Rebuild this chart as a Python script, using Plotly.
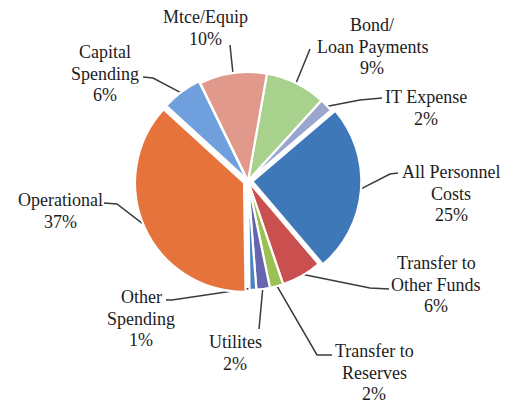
import math
import plotly.graph_objects as go

# Budget breakdown, listed clockwise from the top of the pie
categories = [
    "Bond/\nLoan Payments",
    "IT Expense",
    "All Personnel\nCosts",
    "Transfer to\nOther Funds",
    "Transfer to\nReserves",
    "Utilites",
    "Other\nSpending",
    "Operational",
    "Capital\nSpending",
    "Mtce/Equip",
]
shares = [9, 2, 25, 6, 2, 2, 1, 37, 6, 10]

slice_colors = [
    "#A9D18E", "#9BA6CF", "#3F78B8", "#C9504E", "#9BC152",
    "#6666AE", "#4C82C4", "#E6733C", "#6FA0DD", "#E0998B",
]
slice_pull = [0, 0, 0.04, 0, 0, 0, 0, 0.04, 0.02, 0]

# Page geometry (pixels)
W, H = 510, 403
CX, CY, R = 248, 181, 109
ROTATION = 10
FONT = "Liberation Serif, Times New Roman, Times, serif"
FONT_SIZE = 18
LINE_GAP = 21.5
TEXT_COLOR = "#1c1c1c"
LEADER_COLOR = "#3a3a3a"

# Label placement: text centre x, first line centre y, leader-line elbow, leader-line end at the text
label_place = {
    "Bond/\nLoan Payments": dict(x=372, y=25, elbow=(310, 49), attach=(310, 49)),
    "IT Expense": dict(x=426, y=97, elbow=(360, 100), attach=(382, 98)),
    "All Personnel\nCosts": dict(x=451, y=172, elbow=(390, 174), attach=(398, 173)),
    "Transfer to\nOther Funds": dict(x=436, y=263, elbow=(370, 288), attach=(389, 289)),
    "Transfer to\nReserves": dict(x=374, y=351, elbow=(317, 355), attach=(332, 355)),
    "Utilites": dict(x=235, y=342, elbow=(259, 329), attach=(259, 329)),
    "Other\nSpending": dict(x=141, y=297, elbow=(172, 300), attach=(166, 300)),
    "Operational": dict(x=60, y=200, elbow=(117, 204), attach=(104, 203)),
    "Capital\nSpending": dict(x=105, y=52, elbow=(153, 78), attach=(143, 77)),
    "Mtce/Equip": dict(x=205, y=17, elbow=(230, 45), attach=(230, 45)),
}

max_pull = max(slice_pull)
half = R * (1 + max_pull)
pie_domain = dict(
    x=[(CX - half) / W, (CX + half) / W],
    y=[1 - (CY + half) / H, 1 - (CY - half) / H],
)

fig = go.Figure()

fig.add_trace(go.Pie(
    labels=[c.replace("\n", " ") for c in categories],
    values=shares,
    sort=False,
    direction="clockwise",
    rotation=ROTATION,
    pull=slice_pull,
    marker=dict(colors=slice_colors, line=dict(color="white", width=2.2)),
    textinfo="none",
    hoverinfo="label+percent",
    showlegend=False,
    domain=pie_domain,
))

total = sum(shares)
cum = 0
annotations = []
for cat, val, pull in zip(categories, shares, slice_pull):
    mid = math.radians(ROTATION + 360 * (cum + val / 2) / total)
    cum += val
    r_edge = R * (1 + pull) - 2
    ex = CX + r_edge * math.sin(mid)
    ey = CY - r_edge * math.cos(mid)
    p = label_place[cat]
    xs = [ex, p["elbow"][0], p["attach"][0]]
    ys = [ey, p["elbow"][1], p["attach"][1]]
    fig.add_trace(go.Scatter(
        x=xs, y=ys, mode="lines",
        line=dict(color=LEADER_COLOR, width=1.5),
        hoverinfo="skip", showlegend=False,
    ))
    lines = cat.split("\n") + [f"{val}%"]
    for i, txt in enumerate(lines):
        annotations.append(dict(
            x=p["x"], y=p["y"] + i * LINE_GAP, xref="x", yref="y",
            text=txt, showarrow=False, xanchor="center", yanchor="middle",
            font=dict(family=FONT, size=FONT_SIZE, color=TEXT_COLOR),
        ))

fig.update_layout(
    width=W, height=H,
    margin=dict(l=0, r=0, t=0, b=0),
    paper_bgcolor="white", plot_bgcolor="rgba(0,0,0,0)",
    font=dict(family=FONT),
    xaxis=dict(range=[0, W], visible=False, fixedrange=True, domain=[0, 1]),
    yaxis=dict(range=[H, 0], visible=False, fixedrange=True, domain=[0, 1]),
    annotations=annotations,
    showlegend=False,
)

fig.write_html("out.html")
